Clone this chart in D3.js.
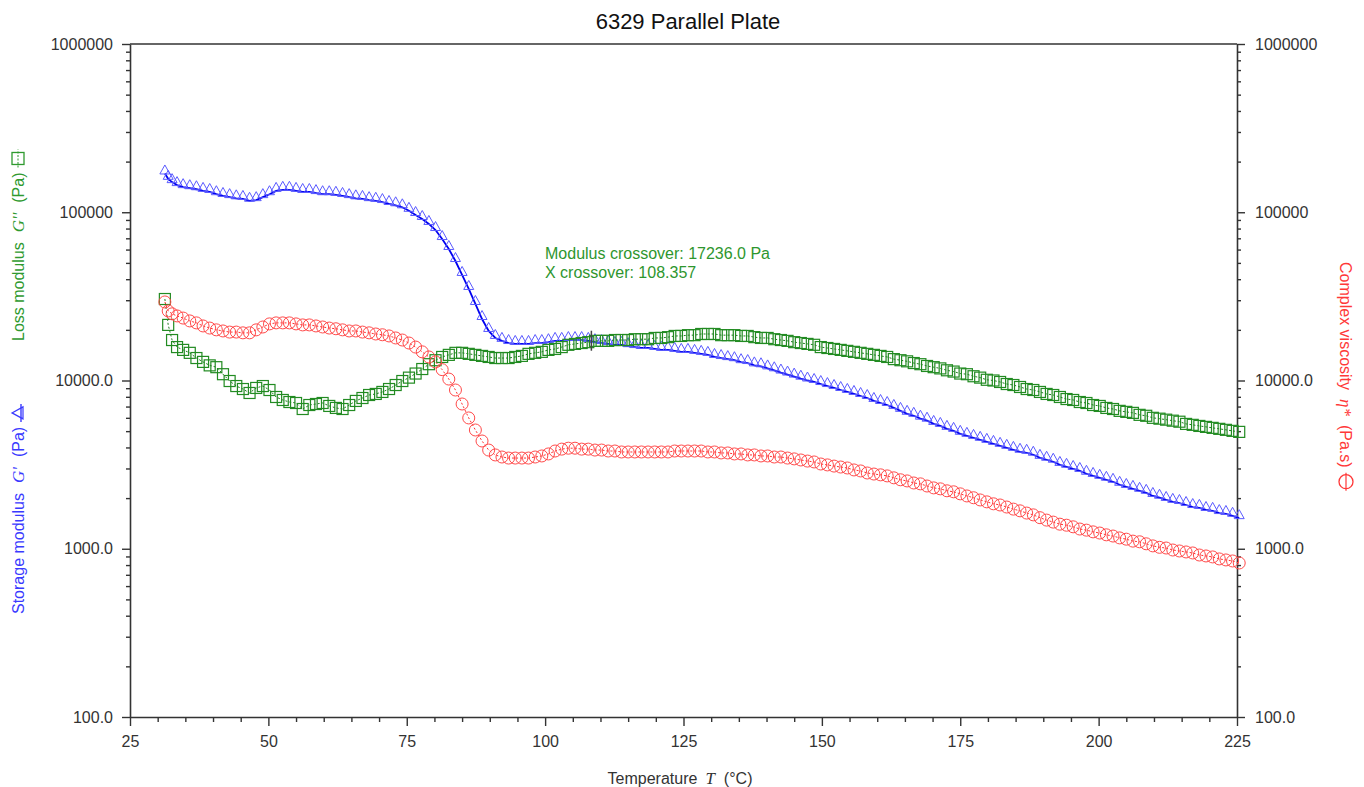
<!DOCTYPE html>
<html>
<head>
<meta charset="utf-8">
<title>6329 Parallel Plate</title>
<script src="https://cdn.jsdelivr.net/npm/d3@7"></script>
<style>
  body { margin: 0; background: #fff; }
  svg { font-family: "Liberation Sans", Arial, sans-serif; }
</style>
</head>
<body>
<svg id="chart"></svg>
<script>
// Temperature of each sample (°C)
const temps = [
  31.3, 31.9, 32.6, 33.5, 34.6, 35.8, 37.0, 38.2, 39.4, 40.6,
  41.8, 43.0, 44.2, 45.4, 46.6, 47.8, 49.0, 50.2, 51.4, 52.6,
  53.8, 55.0, 56.2, 57.4, 58.6, 59.8, 61.0, 62.2, 63.4, 64.6,
  65.8, 67.0, 68.2, 69.4, 70.6, 71.8, 73.0, 74.2, 75.4, 76.6,
  77.8, 79.0, 80.2, 81.4, 82.6, 83.8, 85.0, 86.2, 87.4, 88.6,
  89.8, 91.0, 92.2, 93.4, 94.6, 95.8, 97.0, 98.2, 99.4, 100.6,
  101.8, 103.0, 104.2, 105.4, 106.6, 107.8, 109.0, 110.2, 111.4, 112.6,
  113.8, 115.0, 116.2, 117.4, 118.6, 119.8, 121.0, 122.2, 123.4, 124.6,
  125.8, 127.0, 128.2, 129.4, 130.6, 131.8, 133.0, 134.2, 135.4, 136.6,
  137.8, 139.0, 140.2, 141.4, 142.6, 143.8, 145.0, 146.2, 147.4, 148.6,
  149.8, 151.0, 152.2, 153.4, 154.6, 155.8, 157.0, 158.2, 159.4, 160.6,
  161.8, 163.0, 164.2, 165.4, 166.6, 167.8, 169.0, 170.2, 171.4, 172.6,
  173.8, 175.0, 176.2, 177.4, 178.6, 179.8, 181.0, 182.2, 183.4, 184.6,
  185.8, 187.0, 188.2, 189.4, 190.6, 191.8, 193.0, 194.2, 195.4, 196.6,
  197.8, 199.0, 200.2, 201.4, 202.6, 203.8, 205.0, 206.2, 207.4, 208.6,
  209.8, 211.0, 212.2, 213.4, 214.6, 215.8, 217.0, 218.2, 219.4, 220.6,
  221.8, 223.0, 224.2, 225.4
];

// Storage modulus G' (Pa)
const storageModulus = [
  170000, 158000, 151000, 145000, 141000, 139000, 137000, 134000, 132000, 128000,
  125000, 123000, 121000, 120000, 117000, 118000, 123000, 128000, 134000, 136000,
  136000, 134000, 132000, 132000, 130000, 128000, 128000, 127000, 125000, 123000,
  121000, 120000, 118000, 117000, 115000, 112000, 110000, 107000, 102000, 96300,
  91200, 85200, 78400, 69300, 60500, 51300, 42400, 35000, 28500, 23200,
  19700, 17900, 17200, 16700, 16500, 16500, 16500, 16700, 16700, 16900,
  17200, 17200, 17400, 17400, 17400, 17200, 16900, 16700, 16500, 16250,
  16250, 16000, 15800, 15600, 15600, 15400, 15200, 15200, 15000, 14800,
  14800, 14600, 14400, 14200, 13800, 13600, 13400, 13200, 12850, 12700,
  12300, 12150, 11800, 11500, 11150, 10850, 10550, 10250, 10000, 9800,
  9530, 9270, 9030, 8780, 8550, 8320, 8090, 7870, 7560, 7350,
  7150, 6870, 6600, 6340, 6170, 5930, 5770, 5520, 5370, 5160,
  5020, 4820, 4690, 4560, 4440, 4320, 4200, 4090, 3980, 3870,
  3770, 3720, 3620, 3470, 3380, 3290, 3150, 3070, 2980, 2900,
  2790, 2710, 2640, 2570, 2500, 2400, 2330, 2270, 2210, 2150,
  2060, 2010, 1950, 1900, 1870, 1820, 1770, 1750, 1700, 1680,
  1630, 1610, 1570, 1520
];

// Loss modulus G'' (Pa)
const lossModulus = [
  30500, 21400, 17400, 15800, 15200, 14600, 13600, 12900, 12300, 12000,
  10900, 9930, 9270, 8900, 8430, 9030, 9270, 8780, 7980, 7660,
  7450, 7350, 6770, 7150, 7250, 7350, 7060, 6870, 6770, 7150,
  7560, 7870, 8200, 8320, 8550, 8900, 9400, 9930, 10400, 11000,
  11700, 12500, 13200, 13800, 14200, 14600, 14600, 14400, 14200, 14000,
  13800, 13600, 13600, 13600, 13800, 14000, 14400, 14600, 14800, 15200,
  15400, 15800, 16300, 16500, 16700, 16900, 17200, 17200, 17200, 17400,
  17400, 17400, 17600, 17600, 17600, 17900, 17900, 18100, 18400, 18400,
  18600, 18600, 18900, 18900, 18900, 18600, 18600, 18600, 18400, 18400,
  18100, 17900, 17900, 17600, 17400, 17200, 16900, 16700, 16500, 16300,
  15800, 15600, 15400, 15200, 15000, 14800, 14600, 14400, 14200, 14000,
  13800, 13400, 13200, 13000, 12700, 12500, 12200, 12000, 11800, 11500,
  11300, 11000, 10900, 10600, 10400, 10100, 10000, 9800, 9530, 9400,
  9150, 8900, 8780, 8550, 8320, 8200, 7980, 7760, 7660, 7450,
  7350, 7150, 7060, 6870, 6770, 6600, 6510, 6420, 6250, 6170,
  6000, 5930, 5850, 5770, 5690, 5520, 5450, 5370, 5300, 5230,
  5160, 5090, 5020, 4950
];

// Complex viscosity eta* (Pa.s)
const complexViscosity = [
  29300, 25900, 24900, 24200, 23500, 22600, 22000, 21100, 20500, 20000,
  19700, 19400, 19400, 19200, 19200, 20000, 20800, 21700, 22000, 22000,
  22000, 21700, 21400, 21400, 21100, 20800, 20500, 20300, 20000, 19700,
  19700, 19400, 19200, 18900, 18700, 18400, 17900, 17400, 16700, 15800,
  14800, 13800, 12900, 11600, 10200, 8780, 7250, 5990, 5080, 4370,
  3860, 3610, 3510, 3460, 3460, 3460, 3460, 3510, 3560, 3660,
  3810, 3910, 3960, 3960, 3910, 3910, 3860, 3860, 3810, 3810,
  3760, 3760, 3760, 3760, 3760, 3760, 3760, 3760, 3810, 3810,
  3810, 3810, 3810, 3760, 3760, 3710, 3710, 3660, 3660, 3610,
  3610, 3560, 3560, 3510, 3510, 3460, 3420, 3370, 3320, 3280,
  3190, 3150, 3100, 3060, 3020, 2940, 2900, 2820, 2780, 2750,
  2710, 2640, 2570, 2530, 2460, 2430, 2360, 2300, 2270, 2210,
  2180, 2120, 2060, 2010, 1950, 1900, 1850, 1820, 1770, 1720,
  1680, 1630, 1590, 1530, 1480, 1440, 1400, 1380, 1350, 1310,
  1290, 1260, 1240, 1210, 1190, 1160, 1140, 1110, 1100, 1070,
  1040, 1020, 1010, 983, 970, 957, 944, 918, 906, 894,
  870, 858, 846, 823
];

// Axis ticks
const xTicks = [25, 50, 75, 100, 125, 150, 175, 200, 225];
const yTicks = [100, 1000, 10000, 100000, 1000000];
const yTickLabels = ["100.0", "1000.0", "10000.0", "100000", "1000000"];

// Crossover annotation
const crossoverTemp = 108.357;
const crossoverModulus = 17236.0;

const W = 1364, H = 787;
const margin = { top: 44, right: 127, bottom: 70, left: 130 };

const svg = d3.select("#chart").attr("width", W).attr("height", H);

const x = d3.scaleLinear().domain([25, 225]).range([margin.left, W - margin.right]);
const y = d3.scaleLog().domain([100, 1000000]).range([H - margin.bottom, margin.top]);

// minor ticks
const xMinor = d3.range(25, 226, 5).filter(v => !xTicks.includes(v));
const yMinor = [];
yTicks.slice(0, -1).forEach(d => { for (let k = 2; k <= 9; k++) yMinor.push(d * k); });

const axisColor = "#333";

function styleAxis(g) {
  g.selectAll("path.domain").attr("stroke", axisColor).attr("stroke-width", 1.6);
  g.selectAll(".tick line").attr("stroke", axisColor).attr("stroke-width", 1.4);
  g.selectAll(".tick text").attr("fill", "#333").attr("font-size", 16)
    .attr("font-family", "Liberation Sans, Arial, sans-serif");
}

// Top frame line
svg.append("line")
  .attr("x1", x(25)).attr("x2", x(225))
  .attr("y1", y(1000000)).attr("y2", y(1000000))
  .attr("stroke", axisColor).attr("stroke-width", 1.6);

// Bottom axis
const gx = svg.append("g").attr("transform", `translate(0,${y(100)})`)
  .call(d3.axisBottom(x).tickValues(xTicks).tickSize(9).tickSizeOuter(0).tickPadding(10)
    .tickFormat(d3.format("d")));
svg.append("g").attr("transform", `translate(0,${y(100)})`)
  .call(d3.axisBottom(x).tickValues(xMinor).tickSize(5).tickFormat(""))
  .call(g => g.select(".domain").remove())
  .call(styleAxis);
styleAxis(gx);

// Left axis
const gl = svg.append("g").attr("transform", `translate(${x(25)},0)`)
  .call(d3.axisLeft(y).tickValues(yTicks).tickSize(8).tickSizeOuter(0).tickPadding(9)
    .tickFormat((d, i) => yTickLabels[i]));
svg.append("g").attr("transform", `translate(${x(25)},0)`)
  .call(d3.axisLeft(y).tickValues(yMinor).tickSize(4).tickFormat(""))
  .call(g => g.select(".domain").remove())
  .call(styleAxis);
styleAxis(gl);

// Right axis
const gr = svg.append("g").attr("transform", `translate(${x(225)},0)`)
  .call(d3.axisRight(y).tickValues(yTicks).tickSize(8).tickSizeOuter(0).tickPadding(10)
    .tickFormat((d, i) => yTickLabels[i]));
svg.append("g").attr("transform", `translate(${x(225)},0)`)
  .call(d3.axisRight(y).tickValues(yMinor).tickSize(4).tickFormat(""))
  .call(g => g.select(".domain").remove())
  .call(styleAxis);
styleAxis(gr);

// Title
svg.append("text")
  .attr("x", 688).attr("y", 29)
  .attr("text-anchor", "middle")
  .attr("font-size", 22).attr("fill", "#111")
  .text("6329 Parallel Plate");

// X title
const xt = svg.append("text")
  .attr("x", 680).attr("y", 784)
  .attr("text-anchor", "middle")
  .attr("font-size", 16).attr("fill", "#333");
xt.append("tspan").text("Temperature");
xt.append("tspan").attr("dx", 8).attr("font-style", "italic")
  .attr("font-family", "Liberation Serif, serif").attr("font-size", 17).text("T");
xt.append("tspan").attr("dx", 9).text("(°C)");

// marker shapes
const triPath = "M-5,0.5 L0,-8.5 L5,0.5 Z";

function triangleMarker(g, color) {
  g.append("path").attr("d", "M-6,5 L0,-6 L6,5 Z").attr("fill", "none").attr("stroke", color).attr("stroke-width", 1.2);
  g.append("line").attr("x1", -9).attr("x2", 9).attr("y1", 3).attr("y2", 3)
    .attr("stroke", color).attr("stroke-width", 1.4);
}
function squareMarker(g, color) {
  g.append("rect").attr("x", -6).attr("y", -6).attr("width", 12).attr("height", 12)
    .attr("fill", "none").attr("stroke", color).attr("stroke-width", 1.3);
  g.append("line").attr("x1", -9).attr("x2", 9).attr("y1", 0).attr("y2", 0)
    .attr("stroke", color).attr("stroke-width", 1).attr("stroke-dasharray", "2,1.5");
}
function circleMarker(g, color) {
  g.append("circle").attr("r", 7).attr("fill", "none").attr("stroke", color).attr("stroke-width", 1.3);
  g.append("line").attr("x1", -9).attr("x2", 9).attr("y1", 0).attr("y2", 0)
    .attr("stroke", color).attr("stroke-width", 1.2);
}

// Side titles with their legend symbol
function sideTitle(parts, color, tx, ty, angle, marker, gap) {
  const g = svg.append("g").attr("transform", `translate(${tx},${ty}) rotate(${angle})`);
  const t = g.append("text").attr("fill", color).attr("font-size", 16);
  parts.forEach((p, i) => {
    const s = t.append("tspan").text(p.text);
    if (i > 0) s.attr("dx", gap);
    if (p.italic) s.attr("font-style", "italic").attr("font-family", "Liberation Serif, serif").attr("font-size", 17);
  });
  const len = t.node().getComputedTextLength() + gap * (parts.length - 1);
  const m = g.append("g").attr("transform", `translate(${len + 14},-6)`);
  marker(m, color);
}

const blueC = "#3a3aff", greenC = "#2f9a2f", redC = "#ff3838";

sideTitle([{ text: "Storage modulus" }, { text: "G'", italic: true }, { text: "(Pa)" }],
  blueC, 24, 614, -90, triangleMarker, 10);
sideTitle([{ text: "Loss modulus" }, { text: "G''", italic: true }, { text: "(Pa)" }],
  greenC, 24, 341, -90, squareMarker, 10);
sideTitle([{ text: "Complex viscosity" }, { text: "η*", italic: true }, { text: "(Pa.s)" }],
  redC, 1340, 262, 90, circleMarker, 9);

// Data
const data = temps.map((t, i) => ({
  t: t, g1: storageModulus[i], g2: lossModulus[i], eta: complexViscosity[i]
}));

function lineFor(key) {
  return d3.line().x(d => x(d.t)).y(d => y(d[key]));
}

// Storage modulus: line with triangles sitting on it
svg.append("path").datum(data).attr("d", lineFor("g1"))
  .attr("fill", "none").attr("stroke", "#0000f0").attr("stroke-width", 1.8);
svg.append("g").selectAll("path").data(data).join("path")
  .attr("transform", d => `translate(${x(d.t)},${y(d.g1)})`)
  .attr("d", triPath)
  .attr("fill", "none").attr("stroke", "#5a5aff").attr("stroke-width", 1);

// Loss modulus: squares with dashed line
svg.append("path").datum(data).attr("d", lineFor("g2"))
  .attr("fill", "none").attr("stroke", "#1f7a1f").attr("stroke-width", 1)
  .attr("stroke-dasharray", "2,2");
svg.append("g").selectAll("rect").data(data).join("rect")
  .attr("x", d => x(d.t) - 5.5).attr("y", d => y(d.g2) - 5.5)
  .attr("width", 11).attr("height", 11)
  .attr("fill", "none").attr("stroke", "#228b22").attr("stroke-width", 1.2);

// Complex viscosity: circles with dotted line
svg.append("path").datum(data).attr("d", lineFor("eta"))
  .attr("fill", "none").attr("stroke", "#ff3030").attr("stroke-width", 1)
  .attr("stroke-dasharray", "2,2");
svg.append("g").selectAll("circle").data(data).join("circle")
  .attr("cx", d => x(d.t)).attr("cy", d => y(d.eta)).attr("r", 6)
  .attr("fill", "none").attr("stroke", "#ff4a4a").attr("stroke-width", 1);

// Crossover marker and annotation
svg.append("line")
  .attr("x1", x(crossoverTemp)).attr("x2", x(crossoverTemp))
  .attr("y1", y(crossoverModulus) - 10).attr("y2", y(crossoverModulus) + 10)
  .attr("stroke", "#444").attr("stroke-width", 1.5);

const ann = svg.append("g").attr("fill", "#2e962e").attr("font-size", 16);
ann.append("text").attr("x", 545).attr("y", 259)
  .text(`Modulus crossover: ${crossoverModulus.toFixed(1)} Pa`);
ann.append("text").attr("x", 545).attr("y", 278)
  .text(`X crossover: ${crossoverTemp.toFixed(3)}`);
</script>
</body>
</html>
